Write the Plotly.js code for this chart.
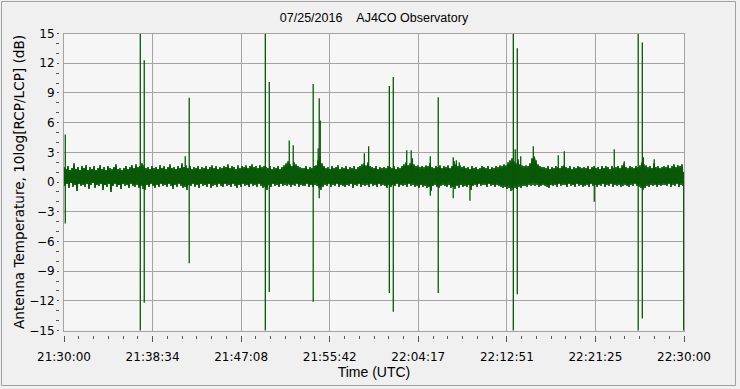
<!DOCTYPE html>
<html>
<head>
<meta charset="utf-8">
<script src="https://cdn.plot.ly/plotly-3.0.1.min.js"></script>
<style>html,body{margin:0;padding:0;background:#f0f0f0;}#chart{width:740px;height:389px;}</style>
</head>
<body>
<div id="chart"></div>
<script>
// Observation window
const startTime = '2016-07-25 21:30:00';
const durationSec = 3600;
const xTickLabelsMajorCount = 7; // 21:30:00, 21:38:34, ... 22:30:00

// Noise band envelope: per time bin maximum and minimum (dB)
const binMax = [
 1.5,1.3,1.6,1.2,1.4,1.9,1.3,1.5,1.2,1.6,
 1.4,1.7,1.2,1.5,1.3,1.6,1.2,1.4,1.7,1.3,
 1.5,1.2,1.6,1.4,1.3,1.5,1.8,1.3,1.4,1.2,
 1.4,1.6,1.3,1.5,1.7,1.4,1.8,1.5,1.6,1.9,
 1.7,1.4,1.5,1.3,1.6,1.4,1.5,1.3,1.7,1.4,
 1.6,1.3,1.5,1.8,1.4,1.5,1.3,1.6,1.4,1.9,
 1.5,1.7,1.4,1.6,1.3,1.5,1.4,1.6,1.3,1.5,
 1.4,1.6,1.3,1.5,1.7,1.4,1.6,1.3,1.5,1.4,
 1.6,1.5,1.8,1.4,1.6,1.5,1.3,1.7,1.4,1.6,
 1.5,1.7,1.4,1.6,1.8,1.5,1.6,1.4,1.7,1.5,
 1.6,1.5,1.4,1.6,1.3,1.5,1.4,1.6,1.3,1.5,
 1.7,1.9,2.1,1.8,1.6,2.0,1.8,1.6,1.5,1.4,
 1.4,1.6,1.3,1.5,1.4,1.6,1.7,2.2,2.6,1.9,
 1.6,1.4,1.5,1.3,1.6,1.4,1.5,1.7,1.3,1.5,
 1.4,1.6,1.3,1.5,1.4,1.6,1.3,1.5,1.6,1.8,
 1.9,1.7,2.0,1.6,1.5,1.4,1.6,1.3,1.5,1.4,
 1.5,1.4,1.6,1.5,1.4,1.6,1.3,1.5,1.4,1.6,
 1.8,2.0,1.7,1.9,2.1,1.8,1.6,1.7,1.5,1.6,
 1.5,1.7,1.6,1.9,1.5,1.4,1.6,1.5,1.7,1.4,
 1.6,1.5,1.7,1.4,1.6,2.1,1.8,1.6,1.7,1.5,
 1.6,1.4,1.5,1.3,1.6,1.4,1.5,1.3,1.4,1.6,
 1.5,1.4,1.6,1.3,1.5,1.4,1.6,1.5,1.7,1.6,
 1.8,1.7,2.0,2.2,2.4,2.1,1.9,2.3,1.8,1.7,
 1.6,1.7,1.6,1.9,2.4,2.6,2.2,1.8,1.6,1.5,
 1.5,1.4,1.6,1.3,1.5,1.4,1.6,1.5,1.4,1.6,
 1.7,1.5,1.4,1.6,1.3,1.5,1.4,1.6,1.5,1.4,
 1.5,1.4,1.6,1.3,1.5,1.6,1.4,1.5,1.3,1.6,
 1.4,1.6,1.5,1.3,1.6,1.4,1.5,1.6,1.4,1.7,
 1.9,1.5,1.4,1.6,1.5,1.4,1.6,1.5,1.7,2.0,
 1.8,1.7,1.5,1.6,1.4,1.9,1.5,1.6,1.4,1.5,
 1.6,1.5,1.7,1.4,1.6,1.8,1.5,1.7,1.6,1.8
];
const binMin = [
 -0.4,-0.2,-0.6,-0.1,-0.5,-0.3,-0.9,-0.2,-0.4,-0.3,
 -0.5,-0.2,-0.7,-0.3,-0.1,-0.6,-0.3,-0.4,-0.2,-0.8,
 -0.3,-0.5,-0.2,-1.0,-0.4,-0.2,-0.5,-0.3,-0.7,-0.2,
 -0.4,-0.3,-0.6,-0.2,-0.4,-0.5,-0.3,-0.6,-0.4,-0.7,
 -0.8,-0.3,-0.5,-0.2,-0.4,-0.6,-0.3,-0.5,-0.2,-0.4,
 -0.3,-0.5,-0.2,-0.4,-0.7,-0.3,-0.5,-0.2,-0.4,-0.6,
 -0.5,-0.8,-0.3,-0.4,-0.2,-0.5,-0.3,-0.6,-0.2,-0.4,
 -0.3,-0.5,-0.2,-0.6,-0.4,-0.3,-0.5,-0.2,-0.4,-0.5,
 -0.2,-0.4,-0.3,-0.5,-0.2,-0.4,-0.6,-0.3,-0.5,-0.2,
 -0.4,-0.3,-0.5,-0.2,-0.4,-0.3,-0.5,-0.2,-0.4,-0.6,
 -0.5,-0.8,-0.3,-0.5,-0.2,-0.4,-0.3,-0.5,-0.2,-0.4,
 -0.3,-0.4,-0.2,-0.5,-0.3,-0.4,-0.2,-0.5,-0.3,-0.4,
 -0.4,-0.2,-0.5,-0.3,-0.5,-0.3,-0.4,-0.6,-0.8,-0.5,
 -0.3,-0.4,-0.2,-0.5,-0.3,-0.4,-0.2,-0.5,-0.3,-0.4,
 -0.5,-0.3,-0.4,-0.2,-0.6,-0.3,-0.4,-0.2,-0.5,-0.3,
 -0.4,-0.3,-0.5,-0.2,-0.4,-0.3,-0.5,-0.2,-0.4,-0.3,
 -0.4,-0.6,-0.3,-0.5,-0.3,-0.4,-0.2,-0.5,-0.3,-0.4,
 -0.3,-0.5,-0.2,-0.4,-0.3,-0.5,-0.4,-0.6,-0.3,-0.5,
 -0.4,-0.6,-0.5,-0.9,-0.4,-0.3,-0.5,-0.6,-0.4,-0.3,
 -0.4,-0.5,-0.3,-0.6,-0.5,-0.7,-0.4,-0.6,-0.3,-0.5,
 -0.4,-0.5,-0.3,-0.8,-0.4,-0.3,-0.5,-0.2,-0.4,-0.3,
 -0.3,-0.5,-0.2,-0.4,-0.3,-0.5,-0.3,-0.4,-0.5,-0.6,
 -0.5,-0.7,-0.6,-0.9,-0.8,-0.6,-0.7,-0.5,-0.6,-0.4,
 -0.4,-0.5,-0.3,-0.4,-0.3,-0.4,-0.3,-0.5,-0.4,-0.3,
 -0.4,-0.5,-0.6,-0.3,-0.4,-0.3,-0.5,-0.2,-0.4,-0.3,
 -0.3,-0.5,-0.2,-0.4,-0.3,-0.5,-0.2,-0.4,-0.3,-0.5,
 -0.4,-0.3,-0.5,-0.2,-0.4,-0.3,-0.5,-0.3,-0.4,-0.2,
 -0.5,-0.3,-0.4,-0.2,-0.5,-0.3,-0.4,-0.3,-0.5,-0.4,
 -0.3,-0.4,-0.5,-0.3,-0.4,-0.2,-0.4,-0.5,-0.6,-0.8,
 -0.6,-0.4,-0.5,-0.3,-0.4,-0.3,-0.5,-0.3,-0.4,-0.3,
 -0.3,-0.4,-0.2,-0.5,-0.3,-0.4,-0.2,-0.5,-0.3,-0.4
];

// Impulsive events (seconds after 21:30:00), peak and trough in dB
const spikeSec = [7.5,443,466,704,727,1169,1192,1308,1331,1447,1476,1482,1488,1744,1769,1889,1912,1990,2016,2023,2127,2173,2260,2278,2295,2357,2609,2620,2632,2652,2716,2725,2734,2870,2905,3079,3195,3253,3334,3358,3364,3427,3598];
const spikeTop = [4.8,15.8,12.3,2.6,8.5,15.8,10.1,4.2,3.7,9.9,3.4,8.45,6.2,2.9,3.6,9.7,10.6,3.2,3.2,2.4,2.6,8.55,2.5,2.2,2.0,1.2,15.8,3.3,13.5,2.6,2.3,3.6,2.4,2.7,3.1,1.3,3.3,2.1,15.8,14.1,2.5,2.3,1.0];
const spikeBottom = [-4.2,-15.8,-12.2,0,-8.2,-15.8,-11.1,-0.3,-0.2,-12.1,-0.4,-1.65,-0.5,0,0,-11.2,-13.1,0,0,0,-1.4,-11.2,-1.65,0,0,-1.9,-15.8,0,-11.35,0,0,0,0,0,0,-2.0,0,0,-15.8,-13.8,0,0,-15.8];

const titleText = '07/25/2016\u00a0\u00a0\u00a0\u00a0AJ4CO Observatory';
const yTitle = 'Antenna Temperature, 10log[RCP/LCP] (dB)';
const xTitle = 'Time (UTC)';

// ---- build traces ----
const base = Date.UTC(2016, 6, 25, 21, 30, 0);
const toMs = s => base + s * 1000;
const step = durationSec / binMax.length;
const bx = [], by = [];
for (let i = 0; i < binMax.length; i++) {
  bx.push(toMs(i * step)); by.push(binMax[i]);
  bx.push(toMs((i + 0.5) * step)); by.push(binMin[i]);
}
const sx = [], sy = [];
for (let i = 0; i < spikeSec.length; i++) {
  sx.push(toMs(spikeSec[i]), toMs(spikeSec[i]), null);
  sy.push(spikeTop[i], spikeBottom[i], null);
}
const green = '#085808';
const traces = [
  {x: bx, y: by, type: 'scatter', mode: 'lines', line: {color: green, width: 1.7}, hoverinfo: 'skip', showlegend: false},
  {x: sx, y: sy, type: 'scatter', mode: 'lines', line: {color: green, width: 1.3}, hoverinfo: 'skip', showlegend: false, connectgaps: false},
  {x: [], y: [], xaxis: 'x2', yaxis: 'y2', type: 'scatter', showlegend: false}
];

const W = 740, H = 389;
const L = 64, R = 684, T = 33.5, B = 330.5;
const xr = [toMs(0), toMs(durationSec)];
const majorMs = durationSec * 1000 / xTickLabelsMajorCount;
const gridColor = '#a3a3a3';
const tickFont = {family: 'DejaVu Sans', size: 12, color: '#000'};

const layout = {
  width: W, height: H,
  margin: {l: 0, r: 0, t: 0, b: 0, pad: 0},
  paper_bgcolor: '#f0f0f0',
  plot_bgcolor: '#f6f6f7',
  showlegend: false,
  title: {text: titleText, x: ((L + R) / 2) / W, xanchor: 'center', y: 1 - 18 / H, yanchor: 'middle',
          font: {family: 'Liberation Sans', size: 12.5, color: '#000'}},
  xaxis: {type: 'date', domain: [L / W, R / W], range: xr, anchor: 'y',
          tickmode: 'linear', tick0: startTime, dtick: majorMs,
          showgrid: true, gridcolor: gridColor, gridwidth: 1,
          showticklabels: false, ticks: '', zeroline: false,
          showline: true, mirror: true, linecolor: gridColor, linewidth: 1, fixedrange: true},
  yaxis: {domain: [1 - B / H, 1 - T / H], range: [-15, 15], anchor: 'x',
          tickmode: 'linear', tick0: 0, dtick: 3,
          showgrid: true, gridcolor: gridColor, gridwidth: 1,
          showticklabels: false, ticks: '', zeroline: false,
          showline: true, mirror: true, linecolor: gridColor, linewidth: 1, fixedrange: true},
  xaxis2: {type: 'date', overlaying: 'x', anchor: 'free', position: 1 - 335 / H,
           domain: [L / W, R / W], range: xr,
           tickmode: 'linear', tick0: startTime, dtick: majorMs, tickformat: '%H:%M:%S',
           ticks: 'outside', ticklen: 6, tickwidth: 1, tickcolor: '#555',
           minor: {ticks: 'outside', dtick: majorMs / 6, tick0: startTime, ticklen: 3, tickwidth: 1, tickcolor: '#555', showgrid: false},
           showgrid: false, zeroline: false, showline: false, tickfont: tickFont, ticklabelstandoff: 5,
           title: {text: xTitle, font: {family: 'Liberation Sans', size: 14, color: '#000'}, standoff: 3},
           fixedrange: true},
  yaxis2: {overlaying: 'y', anchor: 'free', position: 59 / W, side: 'left',
           domain: [1 - B / H, 1 - T / H], range: [-15, 15],
           tickmode: 'linear', tick0: 0, dtick: 3,
           ticks: 'outside', ticklen: 2, tickwidth: 1, tickcolor: '#555',
           minor: {ticks: 'outside', dtick: 1, ticklen: 3, tickwidth: 1, tickcolor: '#555', showgrid: false},
           showgrid: false, zeroline: false, showline: false, tickfont: tickFont,
           title: {text: yTitle, font: {family: 'DejaVu Sans', size: 13.6, color: '#000'}, standoff: 0},
           fixedrange: true},
  shapes: [
    {type: 'rect', xref: 'paper', yref: 'paper', x0: 1.5 / W, x1: 735.5 / W, y0: 1 - 385.5 / H, y1: 1 - 1.5 / H,
     line: {color: '#a0a0a0', width: 1}, fillcolor: 'rgba(0,0,0,0)', layer: 'below'}
  ]
};

Plotly.newPlot('chart', traces, layout, {staticPlot: true, displayModeBar: false});
</script>
</body>
</html>
